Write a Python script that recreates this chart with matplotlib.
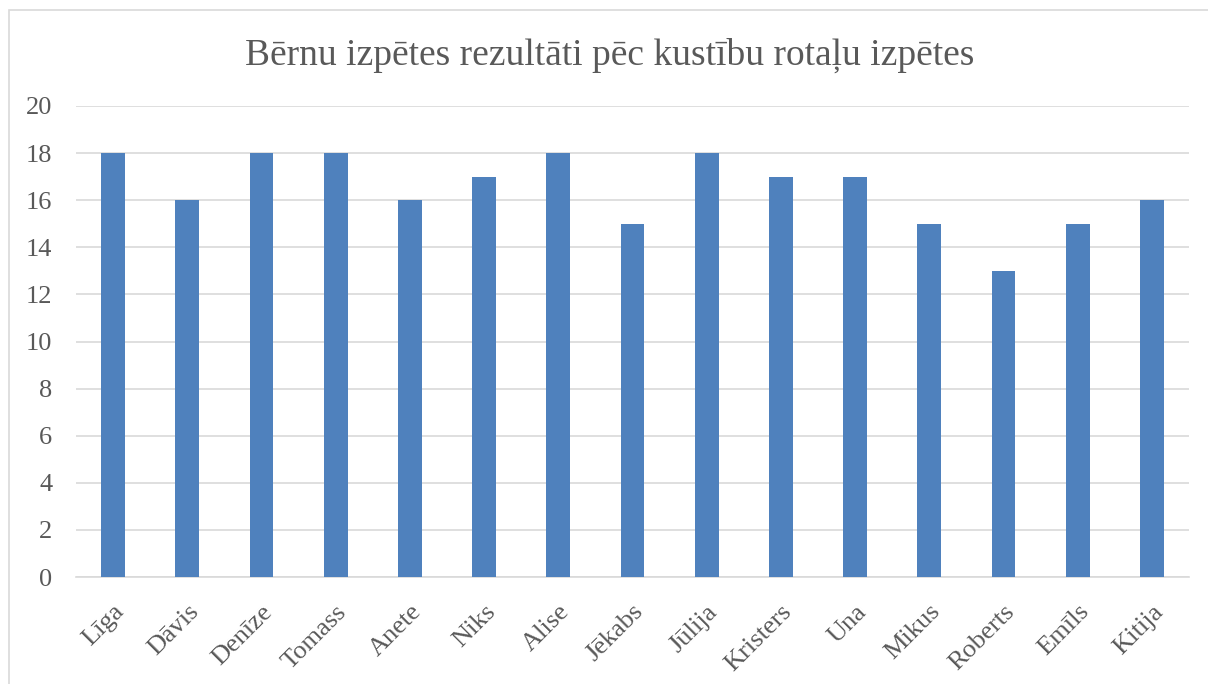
import matplotlib.pyplot as plt
from matplotlib.patches import Rectangle

names = ['Līga', 'Dāvis', 'Denīze', 'Tomass', 'Anete', 'Niks', 'Alise', 'Jēkabs',
         'Jūlija', 'Kristers', 'Una', 'Mikus', 'Roberts', 'Emīls', 'Kitija']
scores = [18, 16, 18, 18, 16, 17, 18, 15, 18, 17, 17, 15, 13, 15, 16]
y_ticks = list(range(0, 21, 2))

plt.rcParams['font.family'] = ['Liberation Serif', 'DejaVu Serif']
TXT = '#595959'
GRID = '#D9D9D9'

fig = plt.figure(figsize=(12.08, 6.84), dpi=100)
# chart border like the office chart frame
fig.patches.append(Rectangle((9 / 1208, -0.01), 1.02, 1 - 10 / 684 + 0.01,
                             transform=fig.transFigure, fill=False,
                             edgecolor=GRID, linewidth=1.2))

ax = fig.add_axes([76 / 1208, 1 - 577 / 684, (1189 - 76) / 1208, (577 - 106) / 684])
x = range(len(names))
ax.bar(x, scores, width=0.32, color='#4F81BD', zorder=3)

ax.set_xlim(-0.5, len(names) - 0.5)
ax.set_ylim(0, 20)
ax.set_yticks(y_ticks)
ax.set_xticks(list(x))
ax.set_xticklabels(names, rotation=45, ha='right', rotation_mode='anchor')
ax.tick_params(axis='both', length=0, labelsize=19, labelcolor=TXT)
ax.tick_params(axis='x', pad=17)
ax.tick_params(axis='y', pad=17)
ax.grid(axis='y', color=GRID, linewidth=1.2, zorder=0)
for s in ['top', 'right', 'left']:
    ax.spines[s].set_visible(False)
ax.spines['bottom'].set_color(GRID)
ax.spines['bottom'].set_linewidth(1.2)

fig.text(0.505, 1 - 55 / 684, 'Bērnu izpētes rezultāti pēc kustību rotaļu izpētes',
         ha='center', va='center', fontsize=27, color=TXT)

fig.savefig('out.png', dpi=100)
